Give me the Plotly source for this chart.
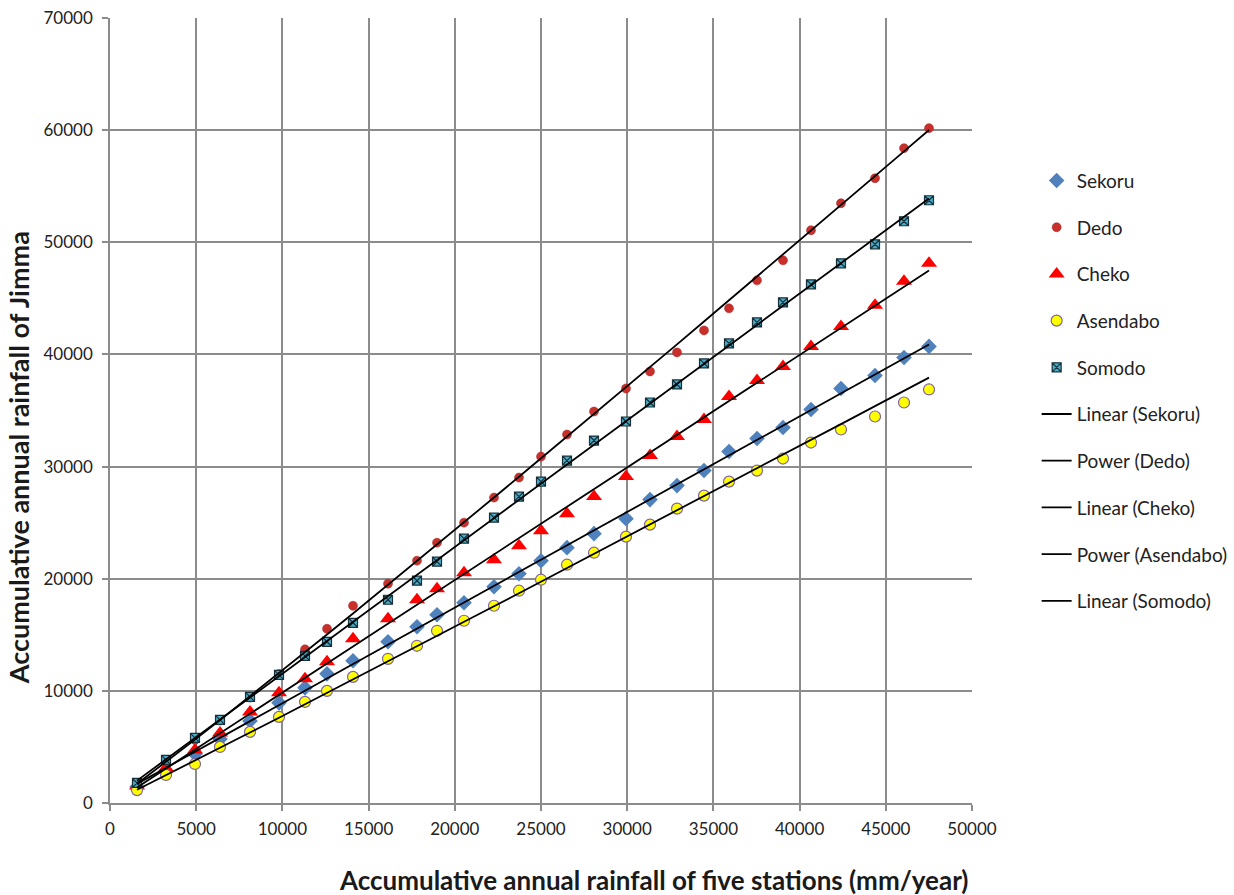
import numpy as np
import plotly.graph_objects as go

# Accumulative annual rainfall of five stations (x, mm/year)
x_cum = [1566, 3248, 4930, 6381, 8121, 9803, 11311, 12587, 14095, 16125,
         17807, 18968, 20534, 22274, 23724, 25000, 26508, 28074, 29930, 31323,
         32889, 34455, 35905, 37529, 39037, 40661, 42401, 44374, 46056, 47506]

sekoru = [1429, 2857, 4375, 5714, 7321, 8929, 10268, 11518, 12679, 14375,
          15714, 16786, 17857, 19286, 20446, 21607, 22768, 24018, 25357, 27054,
          28304, 29643, 31339, 32500, 33482, 35089, 36964, 38125, 39732, 40714]

dedo = [1680, 3650, 5620, 7350, 9400, 11500, 13700, 15536, 17589, 19554,
        21607, 23214, 25000, 27232, 29018, 30893, 32857, 34911, 36964, 38482,
        40179, 42143, 44107, 46607, 48393, 51071, 53482, 55714, 58393, 60179]

cheko = [1518, 3125, 4732, 6250, 8125, 9821, 11071, 12589, 14643, 16429,
         18125, 19107, 20536, 21696, 22946, 24286, 25804, 27321, 29107, 30982,
         32679, 34196, 36250, 37679, 38929, 40714, 42500, 44375, 46518, 48125]

asendabo = [1150, 2500, 3482, 5000, 6339, 7679, 9018, 10000, 11250, 12857,
            14018, 15357, 16250, 17589, 18929, 19911, 21250, 22321, 23750, 24821,
            26250, 27411, 28661, 29643, 30714, 32143, 33304, 34464, 35714, 36875]

somodo = [1786, 3839, 5804, 7411, 9464, 11429, 13125, 14375, 16071, 18125,
          19821, 21518, 23571, 25446, 27321, 28661, 30536, 32321, 34018, 35714,
          37321, 39196, 40982, 42857, 44643, 46250, 48125, 49821, 51875, 53750]

x_ticks = list(range(0, 50001, 5000))
y_ticks = list(range(0, 70001, 10000))

X = np.array(x_cum, dtype=float)


def linear_fit(y):
    m, c = np.polyfit(X, np.array(y, dtype=float), 1)
    return m * X + c


def power_fit(y):
    b, ln_a = np.polyfit(np.log(X), np.log(np.array(y, dtype=float)), 1)
    return np.exp(ln_a) * X ** b


FONT = "Lato, 'Open Sans', sans-serif"
fig = go.Figure()

series = [
    ("Sekoru", sekoru, dict(symbol="diamond", size=12, color="#4F81BD",
                            line=dict(width=0))),
    ("Dedo", dedo, dict(symbol="circle", size=9, color="#C9302C",
                        line=dict(width=0.5, color="#A02020"))),
    ("Cheko", cheko, dict(symbol="triangle-up", size=14, color="#FF0000",
                          line=dict(width=0))),
    ("Asendabo", asendabo, dict(symbol="circle", size=11, color="#FFFF00",
                                line=dict(width=1.2, color="#8064A2"))),
    ("Somodo", somodo, dict(symbol="square-x", size=9, color="#4BACC6",
                            line=dict(width=1.2, color="#17303A"))),
]

for i, (name, ys, mk) in enumerate(series):
    fig.add_trace(go.Scatter(x=x_cum, y=ys, mode="markers", name=name,
                             marker=mk, legendgroup=f"g{i}"))

trends = [
    ("Linear (Sekoru)", linear_fit(sekoru)),
    ("Power (Dedo)", power_fit(dedo)),
    ("Linear (Cheko)", linear_fit(cheko)),
    ("Power (Asendabo)", power_fit(asendabo)),
    ("Linear (Somodo)", linear_fit(somodo)),
]
for j, (name, ys) in enumerate(trends):
    fig.add_trace(go.Scatter(x=x_cum, y=ys, mode="lines", name=name,
                             line=dict(color="black", width=1.8),
                             legendgroup=f"t{j}"))

axis_common = dict(
    showgrid=True, gridcolor="#8C8C8C", gridwidth=1.6,
    showline=True, linecolor="#8C8C8C", linewidth=1.6, mirror=False,
    ticks="outside", ticklen=6, tickcolor="#8C8C8C", tickwidth=1.6,
    tickfont=dict(family=FONT, size=17, color="#222222"),
    zeroline=False, automargin=False,
)

fig.update_layout(
    width=1234, height=895,
    margin=dict(l=110, r=262, t=18, b=92, autoexpand=False),
    paper_bgcolor="white", plot_bgcolor="white",
    xaxis=dict(range=[0, 50000], tickvals=x_ticks,
               ticktext=[str(v) for v in x_ticks],
               ticklabelstandoff=4, **axis_common),
    yaxis=dict(range=[0, 70000], tickvals=y_ticks,
               ticktext=[str(v) for v in y_ticks],
               ticklabelstandoff=6, **axis_common),
    legend=dict(x=1.075, xanchor="left", y=0.817, yanchor="top",
                font=dict(family=FONT, size=19, color="#222222"),
                tracegroupgap=19, bgcolor="rgba(0,0,0,0)"),
    showlegend=True,
    annotations=[
        dict(text="<b>Accumulative annual rainfall of five stations (mm/year)</b>",
             xref="paper", yref="paper", x=0.63, y=-0.098,
             xanchor="center", yanchor="middle", showarrow=False,
             font=dict(family=FONT, size=26, color="#1a1a1a")),
        dict(text="<b>Accumulative annual rainfall of Jimma</b>",
             xref="paper", yref="paper", x=-0.106, y=0.44,
             xanchor="center", yanchor="middle", showarrow=False,
             textangle=-90,
             font=dict(family=FONT, size=27, color="#1a1a1a")),
    ],
)

fig.write_html("out.html")
